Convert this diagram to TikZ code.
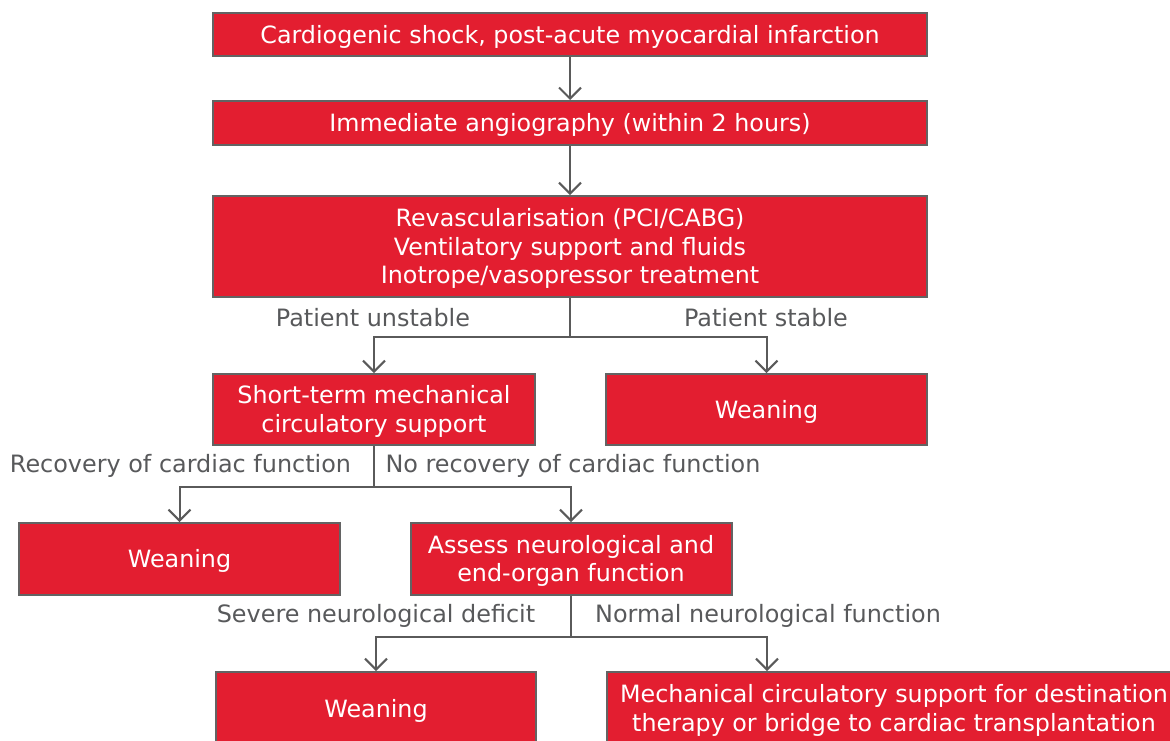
\documentclass[tikz,border=0pt]{standalone}
\usepackage{fontspec}
\setmainfont{DejaVu Sans}
\usetikzlibrary{arrows.meta}
\definecolor{boxred}{HTML}{E31E30}
\definecolor{boxgray}{HTML}{636363}
\definecolor{txtgray}{HTML}{58595B}
\definecolor{arrgray}{HTML}{5A5A5A}
\newcommand\bxtext[1]{\raisebox{-3pt}[\height][\depth]{\begin{tabular}{@{}c@{}}#1\end{tabular}}}
\begin{document}
\begin{tikzpicture}[x=1pt,y=-1pt,
  box/.style={draw=boxgray, line width=2pt, fill=boxred, text=white,
    font=\fontsize{23.8}{28.5}\selectfont, inner sep=0pt},
  lbl/.style={text=txtgray, font=\fontsize{23.9}{28.5}\selectfont, inner sep=0pt},
  conn/.style={draw=arrgray, line width=2pt},
  arr/.style={conn, -{Straight Barb[length=11pt,width=22pt,line width=2pt]}}]
\path[use as bounding box, clip] (0,0) rectangle (1170,740);
% boxes
\node[box, minimum width=714pt, minimum height=43pt] (b1) at (570,34.5) {\bxtext{Cardiogenic shock, post-acute myocardial infarction}};
\node[box, minimum width=714pt, minimum height=44pt] (b2) at (570,123) {\bxtext{Immediate angiography (within 2 hours)}};
\node[box, minimum width=714pt, minimum height=101pt] (b3) at (570,246.5) {\bxtext{Revascularisation (PCI/CABG)\\Ventilatory support and fluids\\Inotrope/vasopressor treatment}};
\node[box, minimum width=322pt, minimum height=71pt] (b4) at (374,409.5) {\bxtext{Short-term mechanical\\circulatory support}};
\node[box, minimum width=321pt, minimum height=71pt] (b5) at (766.5,409.5) {\bxtext{Weaning}};
\node[box, minimum width=321pt, minimum height=72pt] (b6) at (179.5,559) {\bxtext{Weaning}};
\node[box, minimum width=321pt, minimum height=72pt] (b7) at (571,559) {\bxtext{Assess neurological and\\end-organ function}};
\node[box, minimum width=320pt, minimum height=73pt] (b8) at (376,708.5) {\bxtext{Weaning}};
\node[box, minimum width=574pt, minimum height=73pt] (b9) at (894,708.5) {\bxtext{Mechanical circulatory support for destination\\therapy or bridge to cardiac transplantation}};
% labels
\node[lbl] (l1) at (373,318) {Patient unstable};
\node[lbl] (l2) at (766,318) {Patient stable};
\node[lbl] (l3) at (180.5,466) {Recovery of cardiac function};
\node[lbl] (l4) at (573,466) {No recovery of cardiac function};
\node[lbl] (l5) at (376,616) {Severe neurological deficit};
\node[lbl] (l6) at (768,616) {Normal neurological function};
% junctions
\coordinate (j1) at (570,337);
\coordinate (j2) at (374,487);
\coordinate (j3) at (571,637);
% connectors
\draw[arr] (b1.south) -- (b2.north);
\draw[arr] (b2.south) -- (b3.north);
\draw[conn] (b3.south) -- (j1);
\draw[arr] (j1) -| (b4.north);
\draw[arr] (j1) -| (b5.north);
\draw[conn] (b4.south) -- (j2);
\draw[arr] (j2) -| (b6.north);
\draw[arr] (j2) -| (b7.north);
\draw[conn] (b7.south) -- (j3);
\draw[arr] (j3) -| (b8.north);
\draw[arr] (j3) -| ([xshift=-127pt]b9.north);
\end{tikzpicture}
\end{document}
